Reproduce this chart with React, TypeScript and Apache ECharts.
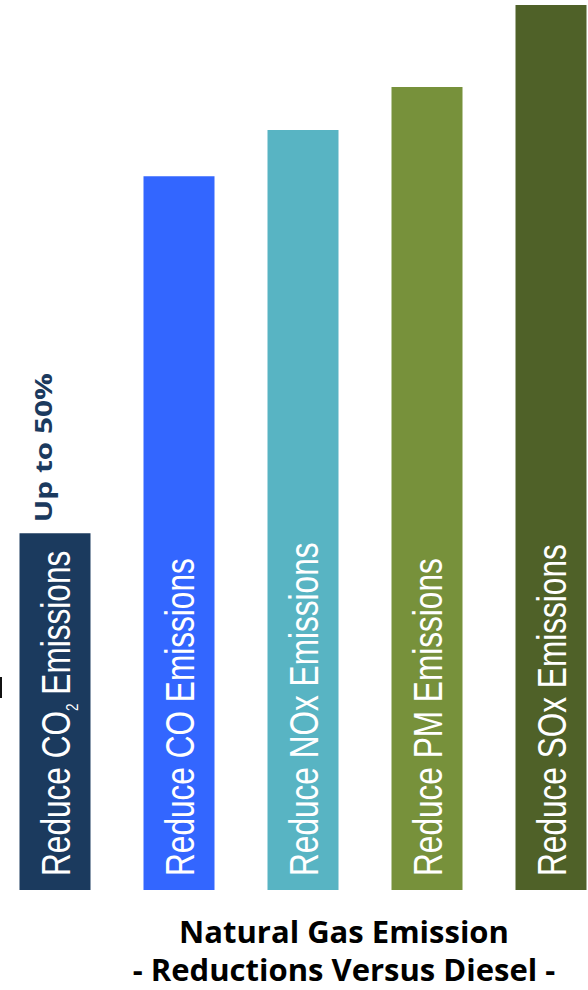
import React, { useEffect, useRef } from "react";
import * as echarts from "echarts";

const categories = ["CO2", "CO", "NOx", "PM", "SOx"];
const barLabels = [
  "Reduce CO2 Emissions",
  "Reduce CO Emissions",
  "Reduce NOx Emissions",
  "Reduce PM Emissions",
  "Reduce SOx Emissions",
];
const values = [50, 100, 106.5, 112.5, 124];
const barColors = ["#1B3A5E", "#3366FF", "#58B4C3", "#77913B", "#4F6128"];
const topNotes = ["Up to 50%", "", "", "", ""];
const titleLines = ["Natural Gas Emission", "- Reductions Versus Diesel -"];

const LABEL_FONT = "'Liberation Sans', Arial, sans-serif";
const NOTE_FONT = "'Open Sans', 'Liberation Sans', sans-serif";

function toRich(s: string): string {
  return "{n|" + s.replace(/O2(?=\s|$)/, "O}{s|2}{n|") + "}";
}

export default function App() {
  const ref = useRef<HTMLDivElement>(null);
  useEffect(() => {
    if (!ref.current) return;
    const chart = echarts.init(ref.current, null, { renderer: "svg" });
    chart.setOption({
      animation: false,
      backgroundColor: "#ffffff",
      grid: { left: -7, width: 620, top: 5, bottom: 100, outerBoundsMode: "none", containLabel: false },
      xAxis: {
        type: "category",
        data: categories,
        show: false,
      },
      yAxis: { type: "value", min: 0, max: 124, show: false },
      series: [
        {
          type: "bar",
          barWidth: 71,
          data: values.map((v, i) => ({ value: v, itemStyle: { color: barColors[i] } })),
          z: 2,
        },
        {
          type: "custom",
          z: 5,
          data: values.map((v, i) => [i, v]),
          encode: { x: 0, y: 1 },
          renderItem: (params: any, api: any) => {
            const idx = params.dataIndex;
            const i = api.value(0);
            const v = api.value(1);
            const base = api.coord([i, 0]);
            const top = api.coord([i, v]);
            const children: any[] = [
              {
                type: "text",
                x: base[0] + 1,
                y: base[1] - 14,
                rotation: Math.PI / 2,
                scaleX: 0.79,
                style: {
                  text: toRich(barLabels[idx]),
                  align: "left",
                  verticalAlign: "middle",
                  fill: "#ffffff",
                  fontSize: 40,
                  fontFamily: LABEL_FONT,
                  rich: {
                    n: { fontSize: 40, fontFamily: LABEL_FONT, fill: "#ffffff", lineHeight: 49 },
                    s: { fontSize: 17, fontFamily: LABEL_FONT, fill: "#ffffff", verticalAlign: "bottom" },
                  },
                },
              },
            ];
            if (topNotes[idx]) {
              children.push({
                type: "text",
                x: top[0] - 12,
                y: top[1] - 11,
                rotation: Math.PI / 2,
                scaleX: 1.24,
                style: {
                  text: topNotes[idx],
                  align: "left",
                  verticalAlign: "middle",
                  fill: "#1B3A5E",
                  fontSize: 24,
                  fontWeight: "bold",
                  fontFamily: NOTE_FONT,
                },
              });
            }
            return { type: "group", children };
          },
        },
      ],
      graphic: [
        { type: "rect", shape: { x: 0, y: 677, width: 2, height: 21 }, style: { fill: "#111111" } },
        {
          type: "text",
          x: 344,
          y: 931,
          style: {
            text: titleLines[0],
            align: "center",
            verticalAlign: "middle",
            fill: "#000000",
            fontSize: 31,
            fontWeight: "bold",
            fontFamily: NOTE_FONT,
          },
        },
        {
          type: "text",
          x: 344,
          y: 969,
          style: {
            text: titleLines[1],
            align: "center",
            verticalAlign: "middle",
            fill: "#000000",
            fontSize: 31,
            fontWeight: "bold",
            fontFamily: NOTE_FONT,
          },
        },
      ],
    });
    return () => chart.dispose();
  }, []);
  return (
    <div
      ref={ref}
      style={{ position: "absolute", left: 0, top: 0, width: 588, height: 990 }}
    />
  );
}
